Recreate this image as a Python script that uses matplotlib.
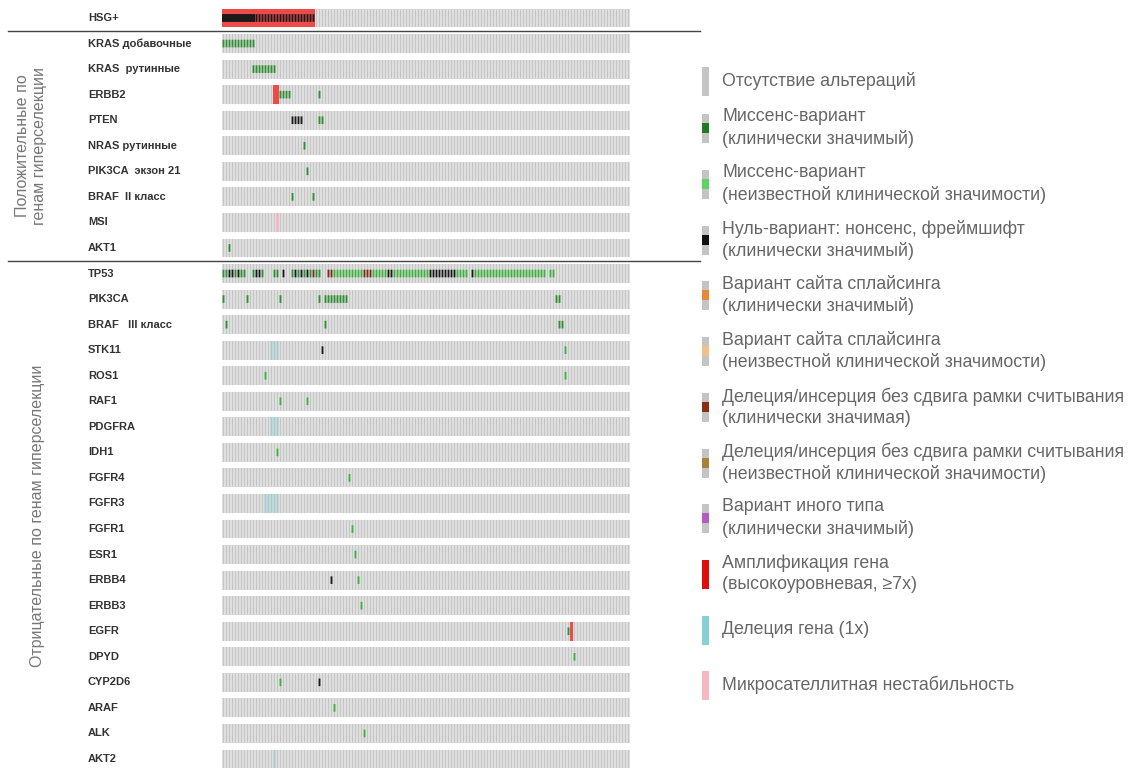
import matplotlib
matplotlib.use('Agg')
import matplotlib.pyplot as plt
from matplotlib.transforms import blended_transform_factory
from matplotlib.patches import Rectangle

plt.rcParams['font.family'] = ['Liberation Sans', 'DejaVu Sans']

# строки онкопринта (сверху вниз)
genes = ['HSG+',
         'KRAS добавочные', 'KRAS  рутинные', 'ERBB2', 'PTEN', 'NRAS рутинные',
         'PIK3CA  экзон 21', 'BRAF  II класс', 'MSI', 'AKT1',
         'TP53', 'PIK3CA', 'BRAF   III класс', 'STK11', 'ROS1', 'RAF1', 'PDGFRA',
         'IDH1', 'FGFR4', 'FGFR3', 'FGFR1', 'ESR1', 'ERBB4', 'ERBB3', 'EGFR',
         'DPYD', 'CYP2D6', 'ARAF', 'ALK', 'AKT2']
n_samples = 136

# альтерации: (строка, номера образцов)
missense_clin = [
    (1, list(range(0, 11))),
    (2, list(range(10, 18))),
    (3, [19, 20, 21, 22, 32]),
    (4, [32, 33]),
    (5, [27]),
    (6, [28]),
    (7, [23, 30]),
    (9, [2]),
    (10, [0, 1, 4, 6, 7, 10, 13, 17, 18, 23, 25, 27, 29, 31, 32]),
    (11, [0, 8, 19, 32] + list(range(34, 42)) + [111, 112]),
    (12, [1, 34, 112, 113]),
    (24, [115]),
]
missense_unk = [
    (10, list(range(37, 47)) + list(range(50, 55)) + list(range(57, 69))
     + list(range(78, 82)) + list(range(84, 108)) + [109, 110]),
    (13, [114]),
    (14, [14, 114]),
    (15, [19, 28]),
    (17, [18]),
    (18, [42]),
    (20, [43]),
    (21, [44]),
    (22, [45]),
    (23, [46]),
    (25, [117]),
    (26, [19]),
    (27, [37]),
    (28, [47]),
]
null_var = [
    (0, list(range(0, 31))),
    (4, [23, 24, 25, 26]),
    (10, [2, 3, 5, 11, 12, 20, 24, 26, 28, 55, 56] + list(range(69, 78)) + [83]),
    (13, [33]),
    (22, [36]),
    (26, [32]),
]
inframe_clin = [
    (10, [30, 35, 36, 47, 48, 49]),
]
amplification = [
    (0, list(range(0, 31))),
    (3, [17, 18]),
    (24, [116]),
]
deletion = [
    (13, [16, 17, 18]),
    (16, [16, 17, 18]),
    (19, [14, 15, 16, 17, 18]),
    (29, [17]),
]
msi = [
    (8, [18]),
]

# легенда
legend_labels = [
    'Отсутствие альтераций',
    'Миссенс-вариант\n(клинически значимый)',
    'Миссенс-вариант\n(неизвестной клинической значимости)',
    'Нуль-вариант: нонсенс, фреймшифт\n(клинически значимый)',
    'Вариант сайта сплайсинга\n(клинически значимый)',
    'Вариант сайта сплайсинга\n(неизвестной клинической значимости)',
    'Делеция/инсерция без сдвига рамки считывания\n(клинически значимая)',
    'Делеция/инсерция без сдвига рамки считывания\n(неизвестной клинической значимости)',
    'Вариант иного типа\n(клинически значимый)',
    'Амплификация гена\n(высокоуровневая, ≥7х)',
    'Делеция гена (1х)',
    'Микросателлитная нестабильность',
]
legend_colors = ['#c4c4c4', '#1f7a1f', '#5fd35f', '#111111', '#e8883a', '#f0c088',
                 '#8b2f10', '#a8823a', '#b05cc0', '#e00d0d', '#86d0d6', '#f7b7c0']
legend_full = [True, False, False, False, False, False, False, False, False, True, True, True]

W, H = 1137, 770
fig = plt.figure(figsize=(W / 100, H / 100), dpi=100)

# положение сетки в пикселях
x0, x1 = 222, 630
y_first, y_last = 18, 759
pitch = (y_last - y_first) / (len(genes) - 1)
pad = 0.4
top_px = y_first - pad * pitch
bot_px = y_last + pad * pitch
ax = fig.add_axes([x0 / W, 1 - bot_px / H, (x1 - x0) / W, (bot_px - top_px) / H])
ax.set_xlim(-0.5, n_samples - 0.5)
ax.set_ylim(len(genes) - 1 + pad, -pad)
ax.axis('off')

cell_h = 0.74
mark_h = 0.3
cols = list(range(n_samples))
for r in range(len(genes)):
    ax.bar(n_samples / 2 - 0.5, cell_h, width=n_samples, bottom=r - cell_h / 2,
           color='#dedede', linewidth=0)
    ax.bar(cols, cell_h, width=0.5, bottom=r - cell_h / 2, color='#c6c6c6', linewidth=0)


def draw_full(data, color, alpha=1.0, width=1.0):
    for r, idx in data:
        ax.bar(idx, cell_h, width=width, bottom=r - cell_h / 2, color=color,
               alpha=alpha, linewidth=0)


def draw_mark(data, color, width=0.62):
    for r, idx in data:
        bars = ax.bar(idx, mark_h, width=width, bottom=r - mark_h / 2, color=color,
                      linewidth=0)
        for b in bars:
            b.set_snap(False)


draw_full(amplification, '#ee4a4a')
draw_full(deletion, '#86d0d6', alpha=0.35)
draw_full(msi, '#f7b7c0', alpha=0.8)
draw_mark(missense_clin, '#2e8f35')
draw_mark(missense_unk, '#3fb13f')
draw_mark(null_var, '#1a1a1a')
draw_mark(inframe_clin, '#7a2a18')
# сплошная чёрная полоса у первых образцов HSG+
draw_mark([(0, list(range(0, 11)))], '#1a1a1a', width=1.0)

# подписи генов
tr = blended_transform_factory(fig.transFigure, ax.transData)
for r, g in enumerate(genes):
    ax.text(88 / W, r, g, transform=tr, ha='left', va='center', fontsize=8,
            fontweight='bold', color='#333333')

# разделители групп
for yb in [0.5, 9.5]:
    ax.plot([8 / W, 700 / W], [yb, yb], transform=tr, color='#444444', lw=1.0,
            clip_on=False)

ax.text(31 / W, 5, 'Положительные по\nгенам гиперселекции', transform=tr,
        rotation=90, ha='center', va='center', fontsize=11.5, color='#777777',
        linespacing=1.1)
ax.text(38 / W, 19.5, 'Отрицательные по генам гиперселекции', transform=tr,
        rotation=90, ha='center', va='center', fontsize=11.5, color='#777777')

# легенда
lax = fig.add_axes([0, 0, 1, 1], zorder=-1)
lax.set_xlim(0, W)
lax.set_ylim(H, 0)
lax.axis('off')
leg_y = [81, 128, 184, 240, 295, 351, 407, 463, 518, 574, 630, 685]
for yc, lab, c, full in zip(leg_y, legend_labels, legend_colors, legend_full):
    lax.add_patch(Rectangle((702, yc - 14.5), 7, 29, color='#c4c4c4' if not full else c,
                            linewidth=0))
    if not full:
        lax.add_patch(Rectangle((702, yc - 5), 7, 10, color=c, linewidth=0))
    lax.text(722, yc, lab, ha='left', va='center', fontsize=12.8, color='#666666',
             linespacing=1.3)

fig.savefig('out.png', dpi=100)
